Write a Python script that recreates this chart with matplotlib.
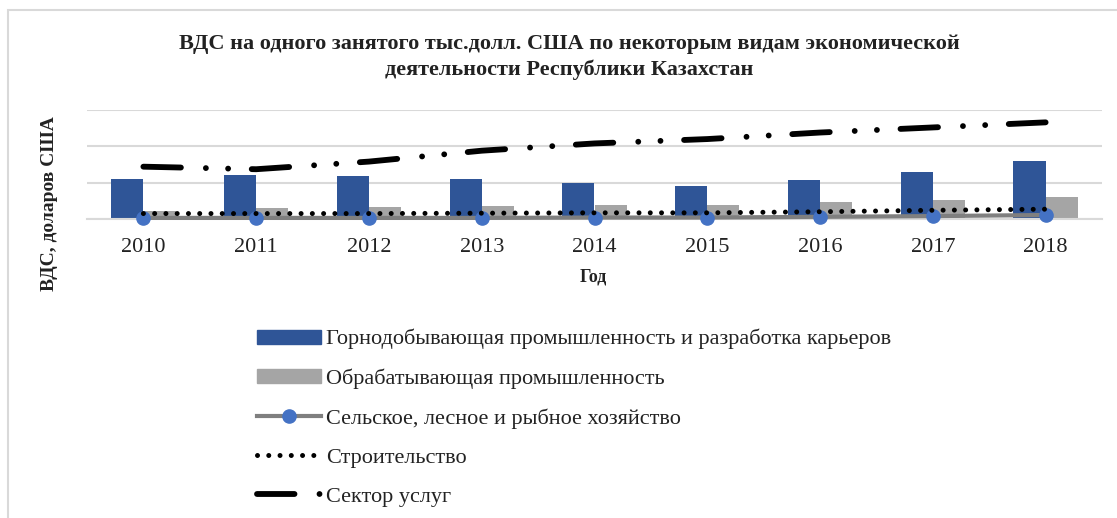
import matplotlib
matplotlib.use("Agg")
import matplotlib.pyplot as plt
import numpy as np
from matplotlib.lines import Line2D
from matplotlib.patches import Patch, Rectangle

plt.rcParams["font.family"] = ["Liberation Serif", "DejaVu Serif"]
plt.rcParams["lines.scale_dashes"] = False

years = ["2010", "2011", "2012", "2013", "2014", "2015", "2016", "2017", "2018"]
mining = [55, 60, 58.5, 55, 50, 45, 54, 65, 80]
manufacturing = [10.5, 14.5, 16, 17.3, 19, 18.7, 23, 26.5, 30]
agriculture = [1.5, 1.5, 1.5, 1.5, 2, 2, 3, 4, 5.5]
construction = [7.5, 7.5, 7.5, 8, 8.5, 8.5, 10, 12, 13.5]
services = [72, 68.5, 79, 94, 104, 110, 119, 126, 133]

names = [
    "Горнодобывающая промышленность и разработка карьеров",
    "Обрабатывающая промышленность",
    "Сельское, лесное и рыбное хозяйство",
    "Строительство",
    "Сектор услуг",
]
title = ("ВДС на одного занятого тыс.долл. США по некоторым видам экономической\n"
         "деятельности Республики Казахстан")

W, H = 1117, 518
fig = plt.figure(figsize=(W / 100, H / 100), dpi=100)
ax = fig.add_axes([87 / W, 1 - 219 / H, (1102 - 87) / W, (219 - 110) / H])

x = np.arange(len(years))
bw = 0.285
blue = "#2F5597"
grey = "#A5A5A5"
services_dash = (0, (27, 18, 0.01, 16, 0.01, 17))
dotted = (0, (0.01, 8.1))

ax.bar(x - bw / 2, mining, bw, color=blue, zorder=2)
ax.bar(x + bw / 2, manufacturing, bw, color=grey, zorder=2)
ax.plot(x, agriculture, color="#7F7F7F", lw=3, marker="o", ms=9.5,
        mfc="#4472C4", mec="#4472C4", zorder=3, clip_on=False)
ax.plot(x, construction, color="black", lw=3.6, ls=dotted,
        dash_capstyle="round", zorder=4)
ax.plot(x, services, color="black", lw=4.2, ls=services_dash,
        dash_capstyle="round", zorder=4)

ax.set_xlim(-0.5, len(years) - 0.5)
ax.set_ylim(0, 150)
ax.set_yticks([0, 50, 100, 150])
ax.set_yticklabels([])
ax.tick_params(axis="y", length=0)
ax.tick_params(axis="x", length=0, labelsize=16, pad=14, colors="#222222")
ax.set_xticks(x)
ax.set_xticklabels(years)
ax.grid(axis="y", color="#D9D9D9", lw=1.5, zorder=0)
for s in ["top", "right", "left"]:
    ax.spines[s].set_visible(False)
ax.spines["bottom"].set_color("#D9D9D9")
ax.spines["bottom"].set_linewidth(1.5)

fig.text(569 / W, 1 - 57 / H, title, ha="center", va="center",
         fontsize=16, fontweight="bold", color="#222222", linespacing=1.35)
fig.text(593 / W, 1 - 277 / H, "Год", ha="center", va="center",
         fontsize=13, fontweight="bold", color="#222222")
fig.text(50 / W, 1 - 204 / H, "ВДС, доларов США", ha="center", va="center",
         rotation=90, fontsize=14, fontweight="bold", color="#222222")

handles = [
    Patch(color=blue),
    Patch(color=grey),
    Line2D([], [], color="#7F7F7F", lw=3, marker="o", ms=9.5,
           mfc="#4472C4", mec="#4472C4"),
    Line2D([], [], color="black", lw=3.6, ls=dotted, dash_capstyle="round"),
    Line2D([], [], color="black", lw=4.2, ls=services_dash, dash_capstyle="round"),
]
leg = fig.legend(handles, names, loc="upper left",
                 bbox_to_anchor=(248 / W, 1 - 320 / H), frameon=False,
                 fontsize=16, handlelength=2.9, handleheight=0.6,
                 handletextpad=0.2, labelspacing=0.86, borderaxespad=0)
for t in leg.get_texts():
    t.set_color("#222222")

fig.patches.append(Rectangle((8 / W, -0.1), 1.2, 1.1 - 10 / H,
                             transform=fig.transFigure, fill=False,
                             edgecolor="#D9D9D9", lw=1.5))

fig.savefig("out.png", dpi=100)
